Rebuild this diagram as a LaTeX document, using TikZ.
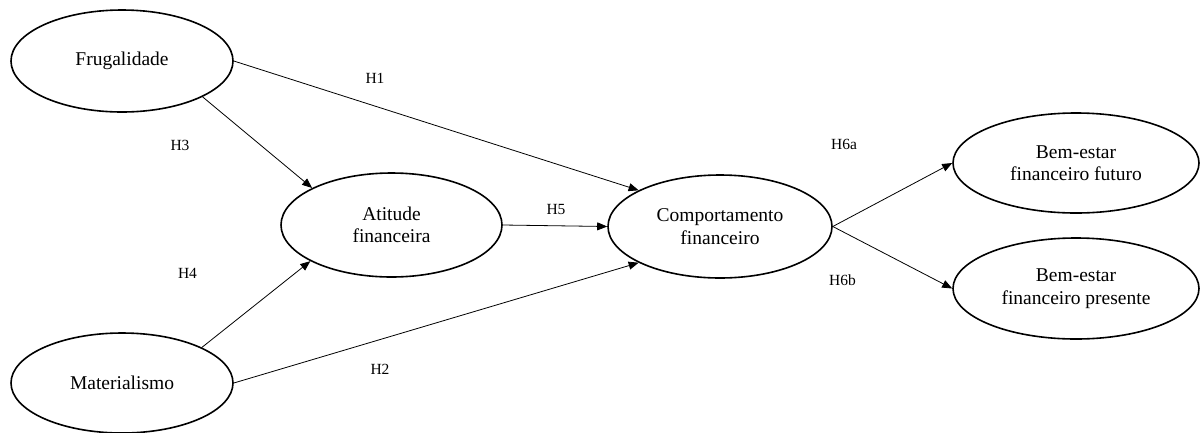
\documentclass[tikz,border=0pt]{standalone}
\usepackage{fontspec}
\setmainfont{Liberation Serif}
\usetikzlibrary{shapes.geometric,arrows.meta}
\begin{document}
\begin{tikzpicture}[x=1pt,y=-1pt,
  construct/.style={ellipse,draw=black,line width=1.6pt,inner sep=0pt,align=center,
    font=\fontsize{19.5}{22.5}\selectfont},
  hyp/.style={-{Triangle[length=10pt,width=8pt]},line width=0.8pt},
  hlabel/.style={font=\fontsize{15.5}{18}\selectfont,inner sep=0pt}]
\useasboundingbox (0,0) rectangle (1200,432);
\node[construct,minimum width=222pt,minimum height=102pt] (frug) at (122,61) {Frugalidade};
\node[construct,minimum width=222pt,minimum height=100pt] (mat) at (122,383) {Materialismo};
\node[construct,minimum width=221pt,minimum height=104pt] (att) at (391.5,225) {Atitude\\financeira};
\node[construct,minimum width=224pt,minimum height=103pt] (comp) at (720,226.5) {Comportamento\\financeiro};
\node[construct,minimum width=246pt,minimum height=100pt] (fut) at (1076,163) {Bem-estar\\financeiro futuro};
\node[construct,minimum width=246pt,minimum height=101pt] (pres) at (1076,288.5) {Bem-estar\\financeiro presente};
\draw[hyp] (frug.east) -- (comp.156);
\draw[hyp] (frug.-24.5) -- (att.155.4);
\draw[hyp] (mat.24) -- (att.204.6);
\draw[hyp] (mat.east) -- (comp.204.8);
\draw[hyp] (att.east) -- (comp.west);
\draw[hyp] (comp.east) -- (fut.west);
\draw[hyp] (comp.east) -- (pres.west);
\node[hlabel] (h1) at (375,78) {H1};
\node[hlabel] (h3) at (180,145) {H3};
\node[hlabel] (h4) at (187.5,273) {H4};
\node[hlabel] (h2) at (380,369) {H2};
\node[hlabel] (h5) at (556,209) {H5};
\node[hlabel] (h6a) at (844,144) {H6a};
\node[hlabel] (h6b) at (842.5,280) {H6b};
\end{tikzpicture}
\end{document}
